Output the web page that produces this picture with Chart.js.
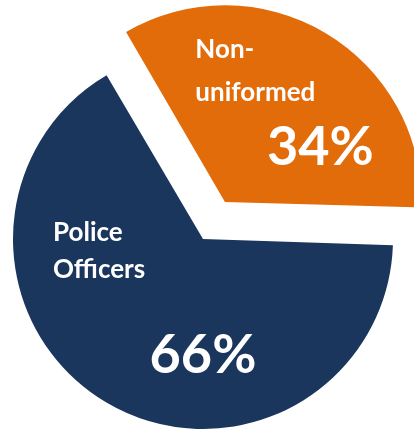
<!DOCTYPE html>
<html>
<head>
<meta charset="utf-8">
<script src="https://cdn.jsdelivr.net/npm/chart.js@4.4.1/dist/chart.umd.min.js"></script>
<style>
  html, body { margin: 0; padding: 0; background: #fff; }
  #wrap { width: 414px; height: 429px; }
</style>
</head>
<body>
<div id="wrap"><canvas id="staff-chart"></canvas></div>
<script>
const categories = ['Non-uniformed', 'Police Officers'];
const values = [34, 66];
const sliceColors = ['#e36c0a', '#1a365d'];

// label lines per slice, offset from the slice's own (shifted) center
const sliceLabels = [
    [
        { text: 'Non-', dx: -33, dy: -138, size: 26, align: 'left' },
        { text: 'uniformed', dx: -33, dy: -95, size: 26, align: 'left' },
        { text: '%', dx: 92, dy: -31, size: 54, align: 'center' }
    ],
    [
        { text: 'Police', dx: -150, dy: 2, size: 26, align: 'left' },
        { text: 'Officers', dx: -150, dy: 39, size: 26, align: 'left' },
        { text: '%', dx: 0, dy: 134, size: 54, align: 'center' }
    ]
];

// same shift that ArcElement.draw applies for the offset option
function arcShift(arc) {
    const off = (arc.options.offset || 0) / 4;
    const circ = arc.endAngle - arc.startAngle;
    const fix = 1 - Math.sin(Math.min(Math.PI, circ || 0));
    return off * (1 + fix);
}

const sliceLabelPlugin = {
    id: 'sliceLabels',
    afterDatasetsDraw(chart) {
        const ctx = chart.ctx;
        const meta = chart.getDatasetMeta(0);
        const data = chart.data.datasets[0].data;
        const total = data.reduce((a, b) => a + b, 0);
        meta.data.forEach((arc, i) => {
            const mid = (arc.startAngle + arc.endAngle) / 2;
            const shift = arcShift(arc);
            const cx = arc.x + Math.cos(mid) * shift;
            const cy = arc.y + Math.sin(mid) * shift;
            ctx.save();
            ctx.fillStyle = '#ffffff';
            ctx.textBaseline = 'alphabetic';
            sliceLabels[i].forEach(l => {
                let txt = l.text;
                if (txt === '%') txt = Math.round(data[i] / total * 100) + '%';
                ctx.font = 'bold ' + l.size + 'px Lato, "Open Sans", sans-serif';
                ctx.textAlign = l.align;
                ctx.fillText(txt, cx + l.dx, cy + l.dy);
            });
            ctx.restore();
        });
    }
};

new Chart(document.getElementById('staff-chart'), {
    type: 'pie',
    data: {
        labels: categories,
        datasets: [{
            data: values,
            backgroundColor: sliceColors,
            borderWidth: 0,
            offset: [172, 0],
            clip: false
        }]
    },
    options: {
        responsive: true,
        maintainAspectRatio: false,
        animation: false,
        rotation: -30.5,
        radius: 190,
        layout: {
            padding: { top: 49, bottom: 0, left: 0, right: 8 }
        },
        plugins: {
            legend: { display: false },
            tooltip: { enabled: false }
        }
    },
    plugins: [sliceLabelPlugin]
});
</script>
</body>
</html>
